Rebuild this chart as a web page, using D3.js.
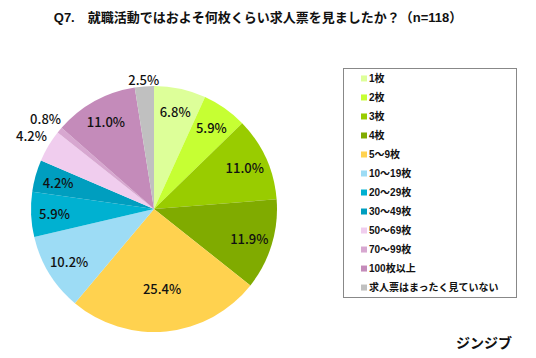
<!DOCTYPE html>
<html><head><meta charset="utf-8">
<script src="https://cdn.jsdelivr.net/npm/d3@7"></script>
<style>
html,body{margin:0;padding:0;background:#fff;}
svg{display:block;font-family:"Liberation Sans","Noto Sans CJK JP",sans-serif;}
.lbl{font-family:"Noto Sans CJK JP","Noto Sans",sans-serif;}
</style></head>
<body><svg id="c" width="536" height="358"></svg>
<script>
const categories = ["1枚","2枚","3枚","4枚","5～9枚","10～19枚","20～29枚","30～49枚","50～69枚","70～99枚","100枚以上","求人票はまったく見ていない"];
const values = [6.8, 5.9, 11.0, 11.9, 25.4, 10.2, 5.9, 4.2, 4.2, 0.8, 11.0, 2.5];
const colors = ["#ddff99","#c6ff33","#99cc00","#80ab00","#ffd24f","#9ddcf5","#00b1d1","#009ebf","#f0cdee","#d7a7d0","#c48bba","#c0c0c0"];
const outsideLabels = ["50～69枚","70～99枚","求人票はまったく見ていない"];
const title = "Q7.\u3000就職活動ではおよそ何枚くらい求人票を見ましたか？（n=118）";
const brand = "ジンジブ";

const svg = d3.select("#c");
const cx = 154, cy = 209, R = 123;

svg.append("text").attr("x", 258).attr("y", 22).attr("text-anchor","middle")
  .attr("font-size", 13).attr("font-weight","bold").attr("fill","#111").text(title);

const pie = d3.pie().sort(null).value(d => d.v);
const data = categories.map((c,i)=>({c, v: values[i], col: colors[i]}));
const arcs = pie(data);
const arc = d3.arc().innerRadius(0).outerRadius(R);
const g = svg.append("g").attr("transform", `translate(${cx},${cy})`);
g.selectAll("path").data(arcs).join("path").attr("d", arc).attr("fill", d=>d.data.col);

g.selectAll("text.lbl").data(arcs).join("text").attr("class","lbl")
  .attr("font-size", 13).attr("font-weight", 500).attr("fill","#111").attr("text-anchor","middle").attr("dominant-baseline","central")
  .each(function(d){
    const a = (d.startAngle + d.endAngle)/2;
    let r;
    if (outsideLabels.includes(d.data.c)) r = R + 6 + Math.abs(Math.sin(a))*16;
    else r = d.data.v > 20 ? R*0.65 : R*0.81;
    d3.select(this).attr("x", Math.sin(a)*r).attr("y", -Math.cos(a)*r);
  })
  .text(d => d.data.v.toFixed(1) + "%");

// legend
svg.append("rect").attr("x", 343.5).attr("y", 68.5).attr("width", 173).attr("height", 229)
  .attr("fill","#fff").attr("stroke","#888").attr("stroke-width",1);
const ly = d3.scaleBand().domain(categories).range([68, 298]).paddingOuter(0.05);
const lg = svg.append("g").selectAll("g").data(data).join("g")
  .attr("transform", d => `translate(361,${ly(d.c)+ly.bandwidth()/2})`);
lg.append("rect").attr("x",0).attr("y",-3).attr("width",6).attr("height",6).attr("fill", d=>d.col);
lg.append("text").attr("x",8).attr("y",0).attr("dominant-baseline","central")
  .attr("font-size",10).attr("font-weight","bold").attr("fill","#111").text(d=>d.c);

svg.append("text").attr("x", 512).attr("y", 343).attr("text-anchor","end").attr("dominant-baseline","central")
  .attr("font-size", 14).attr("font-weight","bold").attr("fill","#111").text(brand);
</script></body></html>
